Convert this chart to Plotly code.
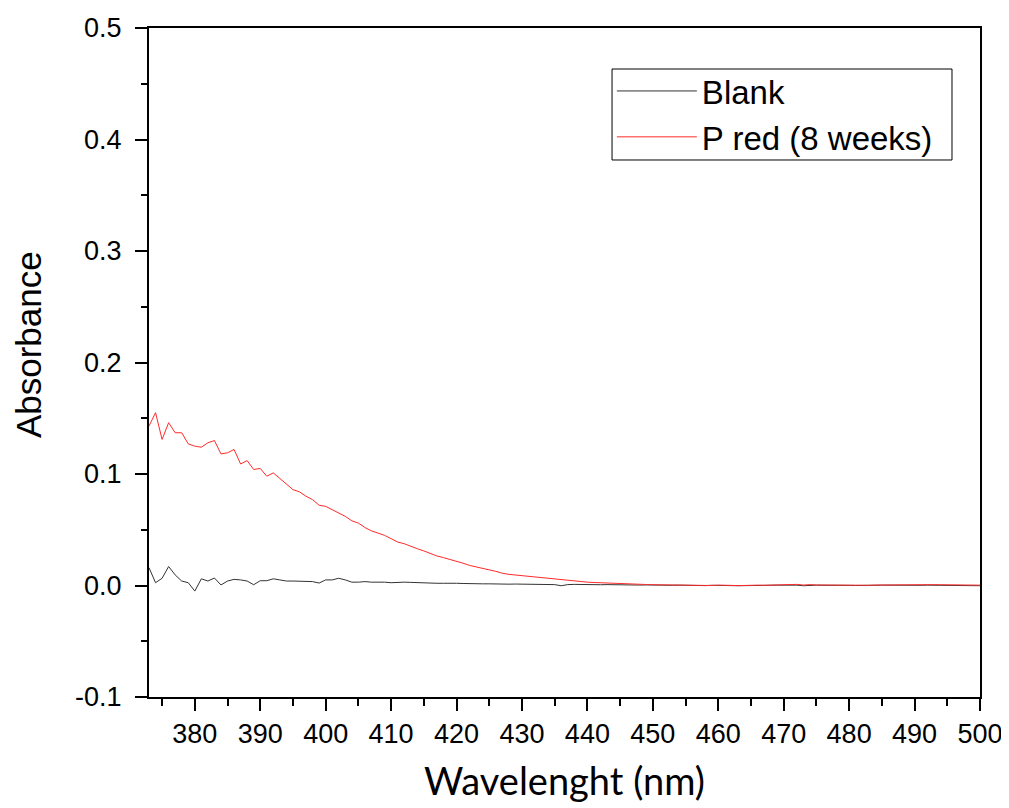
import plotly.graph_objects as go

wavelength = list(range(373, 501))

blank = [
    0.016, 0.0025, 0.0065, 0.017, 0.0095, 0.004, 0.0025, -0.005, 0.006, 0.004,
    0.0067, 0.0005, 0.004, 0.0055, 0.005, 0.004, 0.0007, 0.0043, 0.0043, 0.006,
    0.005, 0.004, 0.004, 0.004, 0.004, 0.0035, 0.0022, 0.005, 0.005, 0.0065,
    0.005, 0.003, 0.003, 0.0035, 0.003, 0.0032, 0.003, 0.0025, 0.003, 0.003,
    0.0028, 0.0025, 0.0022, 0.0025, 0.002, 0.002, 0.0022, 0.002, 0.0018, 0.0015,
    0.0018, 0.0015, 0.0015, 0.0012, 0.0014, 0.0012, 0.0013, 0.0012, 0.0013, 0.0012,
    0.0012, 0.0011, 0.0008, -0.0002, 0.0008, 0.001, 0.0008, 0.0009, 0.0008, 0.0007,
    0.0008, 0.0006, 0.0006, 0.0005, 0.0005, 0.0004, 0.0005, 0.0003, 0.0002, 0.0001,
    0.0002, 0.0003, 0.0001, 0.0, -0.0002, -0.0001, 0.0002, 0.0003, 0.0001, -0.0001,
    -0.0002, 0.0, 0.0002, 0.0001, 0.0, 0.0002, 0.0003, 0.0004, 0.0008, 0.0003,
    -0.0002, 0.0002, 0.0003, 0.0002, 0.0003, 0.0003, 0.0002, 0.0001, 0.0, -0.0001,
    0.0, 0.0002, 0.0003, 0.0002, 0.0001, 0.0001, 0.0002, 0.0003, 0.0002, 0.0003,
    0.0003, 0.0002, 0.0003, 0.0002, 0.0, -0.0001, -0.0002, -0.0002,
]

p_red = [
    0.143, 0.155, 0.131, 0.146, 0.137, 0.137, 0.127, 0.125, 0.124, 0.128,
    0.130, 0.118, 0.119, 0.122, 0.109, 0.112, 0.104, 0.105, 0.098, 0.101,
    0.096, 0.091, 0.086, 0.084, 0.080, 0.077, 0.072, 0.071, 0.068, 0.065,
    0.062, 0.058, 0.056, 0.052, 0.049, 0.047, 0.045, 0.042, 0.039, 0.0375,
    0.035, 0.033, 0.031, 0.0285, 0.0265, 0.025, 0.0235, 0.022, 0.020, 0.018,
    0.0166, 0.0148, 0.014, 0.0127, 0.011, 0.010, 0.0094, 0.0085, 0.008, 0.0075,
    0.007, 0.0066, 0.006, 0.0052, 0.0045, 0.004, 0.0035, 0.003, 0.0027, 0.0024,
    0.002, 0.0018, 0.0016, 0.0014, 0.0012, 0.001, 0.0009, 0.0007, 0.0006, 0.0005,
    0.0006, 0.0004, 0.0002, 0.0001, 0.0, -0.0002, 0.0, 0.0003, 0.0004, 0.0001,
    -0.0001, 0.0002, 0.0004, 0.0003, 0.0002, 0.0004, 0.0005, 0.0007, 0.0012, 0.0010,
    0.0004, 0.0008, 0.0005, 0.0004, 0.0005, 0.0006, 0.0005, 0.0004, 0.0003, 0.0002,
    0.0002, 0.0004, 0.0005, 0.0006, 0.0006, 0.0005, 0.0006, 0.0005, 0.0006, 0.0007,
    0.0008, 0.0007, 0.0007, 0.0008, 0.0006, 0.0005, 0.0004, 0.0003,
]

x_ticks = [380, 390, 400, 410, 420, 430, 440, 450, 460, 470, 480, 490, 500]
y_ticks = [-0.1, 0.0, 0.1, 0.2, 0.3, 0.4, 0.5]
y_tick_labels = ["-0.1", "0.0", "0.1", "0.2", "0.3", "0.4", "0.5"]

fig = go.Figure()
fig.add_trace(go.Scatter(x=wavelength, y=blank, mode="lines", name="Blank",
                         line=dict(color="#333333", width=1)))
fig.add_trace(go.Scatter(x=wavelength, y=p_red, mode="lines", name="P red (8 weeks)",
                         line=dict(color="#ff2a2a", width=1)))

axis_font = dict(family="Liberation Sans, Arial, sans-serif", size=27, color="black")

# page body has an 8px default margin, so the figure is offset by 8px
fig.update_layout(
    width=1001, height=800,
    margin=dict(l=141, r=29, t=20, b=111, autoexpand=False),
    paper_bgcolor="white", plot_bgcolor="white",
    showlegend=True,
    legend=dict(
        x=0.557, y=0.9477, xanchor="left", yanchor="top",
        bgcolor="rgba(0,0,0,0)", borderwidth=0,
        font=dict(family="Liberation Sans, Arial, sans-serif", size=33, color="black"),
        itemwidth=80, tracegroupgap=0,
    ),
    shapes=[dict(type="rect", xref="paper", yref="paper",
                 x0=0.5572, x1=0.9663, y0=0.8027, y1=0.9387,
                 line=dict(color="black", width=1), fillcolor="rgba(0,0,0,0)",
                 layer="above")],
    annotations=[dict(text="Absorbance", xref="paper", yref="paper",
                      x=-0.1456, y=0.526, xanchor="center", yanchor="middle",
                      textangle=-90, showarrow=False,
                      font=dict(family="Liberation Sans, Arial, sans-serif", size=35, color="black"))],
    xaxis=dict(
        range=[373, 500], tickmode="array", tickvals=x_ticks,
        ticks="outside", ticklen=12, tickwidth=2, tickcolor="black",
        minor=dict(dtick=5, tick0=375, ticks="outside", ticklen=7, tickwidth=2, tickcolor="black"),
        showline=True, linewidth=2, linecolor="black", mirror=True,
        showgrid=False, zeroline=False, automargin=False,
        tickfont=axis_font,
        title=dict(text="Wavelenght (nm)", standoff=20,
                   font=dict(family="Lato, Open Sans, sans-serif", size=38, color="black")),
    ),
    yaxis=dict(
        range=[-0.1, 0.5], tickmode="array", tickvals=y_ticks, ticktext=y_tick_labels,
        ticks="outside", ticklen=12, tickwidth=2, tickcolor="black",
        ticklabelstandoff=8,
        minor=dict(dtick=0.05, tick0=0, ticks="outside", ticklen=6, tickwidth=2, tickcolor="black"),
        showline=True, linewidth=2, linecolor="black", mirror=True,
        showgrid=False, zeroline=False, automargin=False,
        tickfont=axis_font,
    ),
)

fig.write_html("out.html")
